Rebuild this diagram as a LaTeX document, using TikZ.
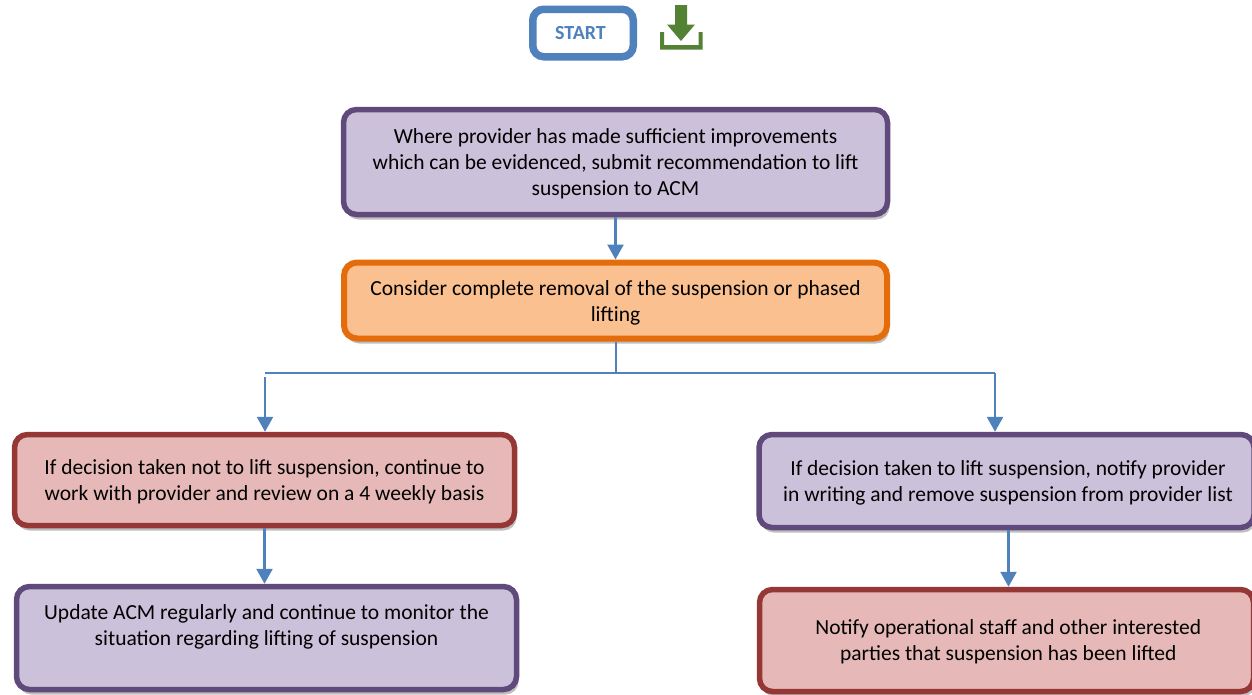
\documentclass[tikz,border=0pt]{standalone}
\usepackage{fontspec}
\setmainfont{Carlito}
\usetikzlibrary{shadows,arrows.meta,calc}
\definecolor{purpfill}{HTML}{CCC1DA}
\definecolor{purpline}{HTML}{604A7B}
\definecolor{redfill}{HTML}{E6B9B8}
\definecolor{redline}{HTML}{953735}
\definecolor{orfill}{HTML}{FAC090}
\definecolor{orline}{HTML}{E46C0A}
\definecolor{blueline}{HTML}{4F81BD}
\definecolor{greenic}{HTML}{548235}
\newcommand{\boxtext}[2]{\raisebox{#1}[0pt][0pt]{\begin{tabular}[c]{@{}c@{}}#2\end{tabular}}}
\tikzset{
 x=1pt,y=-1pt,
 flowbox/.style={rounded corners=13pt,align=center,font=\fontsize{21.5}{26}\selectfont,text=black,inner sep=0pt,
   drop shadow={shadow xshift=2pt,shadow yshift=-5pt,opacity=.25,fill=black}},
 purplebox/.style={flowbox,fill=purpfill,draw=purpline,line width=5.5pt},
 redbox/.style={flowbox,fill=redfill,draw=redline,line width=5.5pt},
 orangebox/.style={flowbox,fill=orfill,draw=orline,line width=6pt},
 startbox/.style={rounded corners=11pt,draw=blueline,line width=7.5pt,fill=white,text=blueline,font=\fontsize{20}{24}\selectfont\bfseries,inner sep=0pt},
 arrowline/.style={draw=blueline,line width=2.6pt,-{Triangle[length=15pt,width=16pt]}},
 thinline/.style={draw=blueline,line width=2pt},
}
\begin{document}
\begin{tikzpicture}
\useasboundingbox (0,0) rectangle (1252,694);
\fill[white] (0,0) rectangle (1252,694);
\node[startbox,minimum width=100.5pt,minimum height=47.5pt] (start) at (583,33) {\hspace*{-5pt}START};
\node[purplebox,minimum width=544pt,minimum height=105pt] (b1) at (615.5,162) {\boxtext{-7pt}{Where provider has made sufficient improvements\\which can be evidenced, submit recommendation to lift\\suspension to ACM}};
\node[orangebox,minimum width=543pt,minimum height=76pt] (b2) at (615.5,300.5) {\boxtext{-8pt}{Consider complete removal of the suspension or phased\\lifting}};
\node[redbox,minimum width=500pt,minimum height=91pt] (b3) at (264.5,480) {\boxtext{-7pt}{If decision taken not to lift suspension, continue to\\work with provider and review on a 4 weekly basis}};
\node[purplebox,minimum width=495pt,minimum height=93pt] (b4) at (1006.5,481) {\hspace*{3pt}\boxtext{-7pt}{If decision taken to lift suspension, notify provider\\in writing and remove suspension from provider list}};
\node[purplebox,minimum width=500pt,minimum height=103pt] (b5) at (266.5,638) {\boxtext{6pt}{Update ACM regularly and continue to monitor the\\situation regarding lifting of suspension}};
\node[redbox,minimum width=494pt,minimum height=102pt] (b6) at (1006.5,640.5) {\hspace*{3.5pt}\boxtext{-7pt}{Notify operational staff and other interested\\parties that suspension has been lifted}};
\coordinate (hub) at (615.5,373);
\coordinate (hl) at (265,373);
\coordinate (hr) at (995,373);
\coordinate (al) at (265,377);
\draw[arrowline] (b1.south) -- (b2.north);
\draw[thinline] (b2.south) -- (hub);
\draw[thinline] (hl) -- (hr);
\draw[arrowline] (al) -- (al |- b3.north);
\draw[arrowline] (hr) -- (hr |- b4.north);
\draw[arrowline] (b3.south) -- (b5.north -| b3.south);
\draw[arrowline] ($(b4.south)+(2,0)$) -- ($(b6.north)+(2,0)$);
% download icon
\fill[greenic] (675,5) -- (687,5) -- (687,24.5) -- (695,24.5) -- (681,41) -- (667,24.5) -- (675,24.5) -- cycle;
\fill[greenic] (660,32) -- (664,32) -- (664,45) -- (698.5,45) -- (698.5,32) -- (702.5,32) -- (702.5,49.5) -- (660,49.5) -- cycle;
\end{tikzpicture}
\end{document}
